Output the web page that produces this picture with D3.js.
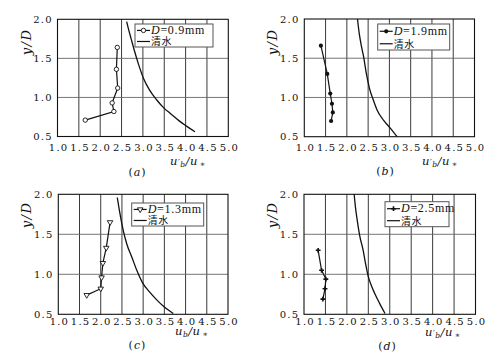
<!DOCTYPE html>
<html>
<head>
<meta charset="utf-8">
<script src="https://cdn.jsdelivr.net/npm/d3@7"></script>
<style>
    body { margin: 0; background: #fff; }
    svg text { font-family: "DejaVu Serif", "Liberation Serif", serif; fill: #111; }
    svg text.cjk { font-family: "Noto Sans CJK SC", sans-serif; }
</style>
</head>
<body>
<svg id="chart" width="497" height="353"></svg>
<script>
// Turbulence intensity profiles, four grain sizes vs clear water.

const xTicks = [1.0, 1.5, 2.0, 2.5, 3.0, 3.5, 4.0, 4.5, 5.0];
const yTicks = [0.5, 1.0, 1.5, 2.0];
const captions = ["a", "b", "c", "d"];
const grainSizes = ["0.9", "1.9", "1.3", "2.5"];
const clearLabel = "清水";

// sediment-laden runs (u'b/u*, y/D)
const d09U = [1.65, 2.32, 2.28, 2.41, 2.38, 2.40];
const d09Y = [0.71, 0.82, 0.93, 1.12, 1.36, 1.64];
const d19U = [1.39, 1.54, 1.61, 1.65, 1.67, 1.63];
const d19Y = [1.66, 1.30, 1.05, 0.92, 0.81, 0.70];
const d13U = [1.67, 2.00, 2.02, 2.05, 2.13, 2.22];
const d13Y = [0.74, 0.82, 0.96, 1.14, 1.33, 1.65];
const d25U = [1.33, 1.41, 1.51, 1.49, 1.44];
const d25Y = [1.30, 1.05, 0.94, 0.82, 0.69];

// clear water curves
const clearAU = [2.62, 2.66, 2.72, 2.80, 2.90, 3.01, 3.15, 3.32, 3.50, 3.63, 3.85, 4.03, 4.22];
const clearAY = [1.97, 1.88, 1.76, 1.60, 1.42, 1.25, 1.10, 0.97, 0.86, 0.80, 0.70, 0.63, 0.56];
const clearBU = [2.25, 2.29, 2.34, 2.39, 2.46, 2.53, 2.62, 2.71, 2.86, 3.02, 3.18];
const clearBY = [2.00, 1.82, 1.66, 1.53, 1.30, 1.12, 0.97, 0.84, 0.71, 0.61, 0.50];
const clearCU = [2.39, 2.44, 2.53, 2.62, 2.73, 2.85, 2.99, 3.15, 3.32, 3.50, 3.71];
const clearCY = [1.96, 1.80, 1.55, 1.37, 1.22, 1.05, 0.89, 0.78, 0.68, 0.59, 0.51];
const clearDU = [2.17, 2.20, 2.24, 2.30, 2.38, 2.44, 2.50, 2.57, 2.65, 2.76, 2.89];
const clearDY = [2.00, 1.84, 1.68, 1.48, 1.30, 1.12, 0.97, 0.86, 0.76, 0.64, 0.51];

const panels = [
    { x0: 57.5, x1: 228.3, y0: 19.3, y1: 136.5, su: d09U, sy: d09Y, cu: clearAU, cy: clearAY,
      marker: "openCircle", leg: { x: 135, y: 24, w: 78, h: 23 }, prime: true, pad: 7,
      ylab: [26, 42], xlab: [170, 165], cap: [137, 176] },
    { x0: 304.3, x1: 474.5, y0: 19, y1: 136.7, su: d19U, sy: d19Y, cu: clearBU, cy: clearBY,
      marker: "dot", leg: { x: 377.7, y: 24, w: 72, h: 26 }, prime: true, pad: 7,
      ylab: [272.5, 42], xlab: [422, 165], cap: [385, 175] },
    { x0: 58.3, x1: 228, y0: 194.3, y1: 314.3, su: d13U, sy: d13Y, cu: clearCU, cy: clearCY,
      marker: "openTri", leg: { x: 131.7, y: 203, w: 72, h: 23 }, prime: false, pad: 4,
      ylab: [26, 215], xlab: [175, 335], cap: [137, 349] },
    { x0: 304, x1: 475.5, y0: 194.3, y1: 314.3, su: d25U, sy: d25Y, cu: clearDU, cy: clearDY,
      marker: "cross", leg: { x: 385, y: 201.7, w: 64, h: 25 }, prime: true, pad: 4,
      ylab: [272, 215], xlab: [425, 336], cap: [387, 350] },
];

const svg = d3.select("#chart");

function drawMarker(sel, type) {
    if (type === "openCircle") {
        sel.append("circle").attr("r", 2.2).attr("fill", "#fff")
            .attr("stroke", "#111").attr("stroke-width", 0.9);
    } else if (type === "dot") {
        sel.append("circle").attr("r", 2.1).attr("fill", "#111");
    } else if (type === "openTri") {
        sel.append("path").attr("d", d3.symbol(d3.symbolTriangle, 13)())
            .attr("transform", "rotate(180)")
            .attr("fill", "#fff").attr("stroke", "#111").attr("stroke-width", 0.9);
    } else {
        sel.append("path").attr("d", d3.symbol(d3.symbolCross, 13)())
            .attr("fill", "#111");
    }
}

panels.forEach((p, i) => {
    const x = d3.scaleLinear().domain([1, 5]).range([p.x0, p.x1]);
    const y = d3.scaleLinear().domain([0.5, 2]).range([p.y1, p.y0]);
    const g = svg.append("g");

    // grid
    g.selectAll(".vg").data(xTicks.slice(1, -1)).join("line")
        .attr("x1", (d) => x(d)).attr("x2", (d) => x(d))
        .attr("y1", p.y0).attr("y2", p.y1)
        .attr("stroke", "#3a3a3a").attr("stroke-width", 1);
    g.selectAll(".hg").data(yTicks.slice(1, -1)).join("line")
        .attr("x1", p.x0).attr("x2", p.x1)
        .attr("y1", (d) => y(d)).attr("y2", (d) => y(d))
        .attr("stroke", "#666").attr("stroke-width", 0.9);
    g.append("rect")
        .attr("x", p.x0).attr("y", p.y0)
        .attr("width", p.x1 - p.x0).attr("height", p.y1 - p.y0)
        .attr("fill", "none").attr("stroke", "#111").attr("stroke-width", 1.1);

    // axes (labels only)
    const xa = g.append("g")
        .attr("transform", `translate(0,${p.y1})`)
        .call(d3.axisBottom(x).tickValues(xTicks).tickFormat(d3.format(".1f"))
            .tickSize(0).tickPadding(p.pad));
    xa.select(".domain").remove();
    xa.selectAll("text").attr("font-size", 10).attr("letter-spacing", 1.2)
        .attr("fill", "#111").attr("dx", 0.6);

    const ya = g.append("g")
        .attr("transform", `translate(${p.x0},0)`)
        .call(d3.axisLeft(y).tickValues(yTicks).tickFormat(d3.format(".1f"))
            .tickSize(0).tickPadding(6));
    ya.select(".domain").remove();
    ya.selectAll("text").attr("font-size", 10).attr("letter-spacing", 1.2)
        .attr("fill", "#111").attr("dx", 1.2);

    // clear-water curve
    const clear = p.cu.map((u, k) => [u, p.cy[k]]);
    g.append("path").datum(clear)
        .attr("fill", "none").attr("stroke", "#111").attr("stroke-width", 1.3)
        .attr("d", d3.line().x((d) => x(d[0])).y((d) => y(d[1])).curve(d3.curveMonotoneX));

    // sediment run
    const run = p.su.map((u, k) => [u, p.sy[k]]);
    g.append("path").datum(run)
        .attr("fill", "none").attr("stroke", "#111").attr("stroke-width", 1.2)
        .attr("d", d3.line().x((d) => x(d[0])).y((d) => y(d[1])));
    g.selectAll(".pt").data(run).join("g")
        .attr("transform", (d) => `translate(${x(d[0])},${y(d[1])})`)
        .each(function () { drawMarker(d3.select(this), p.marker); });

    // legend
    const L = p.leg;
    g.append("rect").attr("x", L.x).attr("y", L.y).attr("width", L.w).attr("height", L.h)
        .attr("fill", "#fff").attr("stroke", "#555").attr("stroke-width", 1);
    const r1 = L.y + L.h * 0.28, r2 = L.y + L.h * 0.76;
    g.append("line").attr("x1", L.x + 2).attr("x2", L.x + 15)
        .attr("y1", r1).attr("y2", r1).attr("stroke", "#111").attr("stroke-width", 1.2);
    drawMarker(g.append("g").attr("transform", `translate(${L.x + 8.5},${r1})`), p.marker);
    const t1 = g.append("text").attr("x", L.x + 16).attr("y", r1 + 3.6)
        .attr("font-size", 12).attr("letter-spacing", 0.7)
        .style("font-family", "'Liberation Serif', serif");
    t1.append("tspan").attr("font-style", "italic").text("D");
    t1.append("tspan").text(`=${grainSizes[i]}mm`);
    g.append("line").attr("x1", L.x + 2).attr("x2", L.x + 15)
        .attr("y1", r2).attr("y2", r2).attr("stroke", "#111").attr("stroke-width", 1.2);
    g.append("text").attr("class", "cjk").attr("x", L.x + 16).attr("y", r2 + 4)
        .attr("font-size", 10).attr("letter-spacing", 0.5).text(clearLabel);

    // y label
    g.append("text")
        .attr("transform", `translate(${p.ylab[0]},${p.ylab[1]}) rotate(-90)`)
        .attr("text-anchor", "middle").attr("dy", "0.35em")
        .attr("font-size", 13).attr("font-style", "italic").attr("letter-spacing", 1.5)
        .text("y/D");

    // x label
    const xl = g.append("text").attr("x", p.xlab[0]).attr("y", p.xlab[1])
        .attr("font-size", 11.5).attr("font-style", "italic").attr("letter-spacing", 0.5);
    xl.append("tspan").text("u");
    if (p.prime) xl.append("tspan").attr("font-size", 8).attr("dy", -1).text("′");
    xl.append("tspan").attr("font-size", 7.5).attr("dy", p.prime ? 3 : 2).text("b");
    xl.append("tspan").attr("dy", -2).text("/u");
    xl.append("tspan").attr("font-size", 8).attr("dy", 1.5).attr("dx", 2).text("∗");

    // caption
    const cap = g.append("text").attr("x", p.cap[0]).attr("y", p.cap[1])
        .attr("text-anchor", "middle").attr("font-size", 11);
    cap.append("tspan").text("(");
    cap.append("tspan").attr("font-style", "italic").attr("dx", 1).text(captions[i]);
    cap.append("tspan").attr("dx", 1).text(")");
});
</script>
</body>
</html>
